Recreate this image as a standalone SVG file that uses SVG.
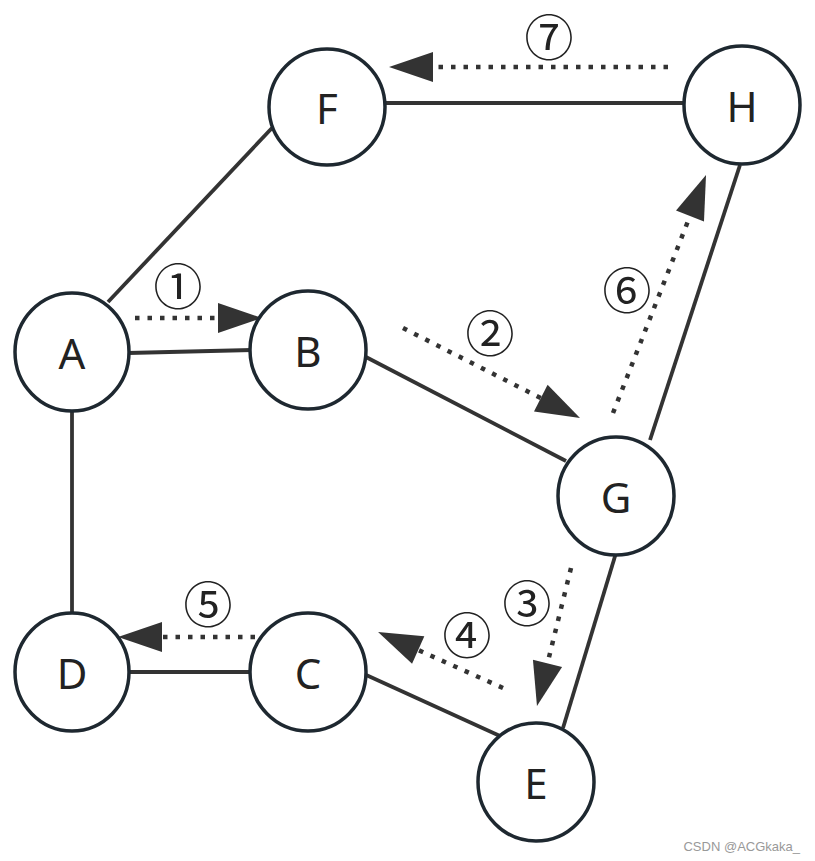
<svg xmlns="http://www.w3.org/2000/svg" width="815" height="861" viewBox="0 0 815 861">
<defs>
<style>
.node ellipse{fill:#fff;stroke:#1e2830;stroke-width:3.5}
.node text{font-family:"Noto Sans","Open Sans",sans-serif;font-size:42px;fill:#222;text-anchor:middle;dominant-baseline:central}
.edge{stroke:#333;stroke-width:3.8;fill:none}
.dot{stroke:#333;stroke-width:4.5;fill:none;stroke-dasharray:4.5 8}
.num{font-family:"Noto Sans CJK SC","DejaVu Sans",sans-serif;font-size:49px;fill:#222;text-anchor:middle;dominant-baseline:central}
</style>
<marker id="ah" markerUnits="userSpaceOnUse" markerWidth="46" markerHeight="32" refX="0" refY="15" orient="auto" overflow="visible">
<path d="M0,0 L44,15 L0,30 z" fill="#333"/>
</marker>
</defs>
<rect width="815" height="861" fill="#fff"/>
<g id="connectors">
<line class="edge" x1="108" y1="302" x2="272" y2="128"/>
<line class="edge" x1="128" y1="353" x2="252" y2="350"/>
<line class="edge" x1="72" y1="410" x2="72" y2="614"/>
<line class="edge" x1="128" y1="672" x2="252" y2="672"/>
<line class="edge" x1="364" y1="674" x2="500" y2="736"/>
<line class="edge" x1="364" y1="356" x2="566" y2="461"/>
<line class="edge" x1="616" y1="553" x2="563" y2="728"/>
<line class="edge" x1="650" y1="440" x2="740" y2="165"/>
<line class="edge" x1="383" y1="103" x2="687" y2="103"/>
<line class="dot" x1="135" y1="318" x2="218" y2="318" marker-end="url(#ah)"/>
<line class="dot" x1="403" y1="328" x2="540.8" y2="398.1" marker-end="url(#ah)"/>
<line class="dot" x1="571" y1="568" x2="547.5" y2="663.3" marker-end="url(#ah)"/>
<line class="dot" x1="503" y1="688" x2="418.2" y2="650" marker-end="url(#ah)"/>
<line class="dot" x1="255" y1="637" x2="162" y2="637" marker-end="url(#ah)"/>
<line class="dot" x1="613" y1="413" x2="690" y2="216" marker-end="url(#ah)"/>
<line class="dot" x1="668" y1="67" x2="433" y2="67" marker-end="url(#ah)"/>
</g>
<g id="labels">
<text class="num" x="178" y="283">①</text>
<text class="num" x="490" y="330">②</text>
<text class="num" x="527" y="600">③</text>
<text class="num" x="467" y="632">④</text>
<text class="num" x="208" y="601">⑤</text>
<text class="num" x="627" y="287">⑥</text>
<text class="num" x="549" y="34">⑦</text>
</g>
<g id="F" class="node"><ellipse cx="327" cy="107" rx="58" ry="58"/><text x="327" y="107">F</text></g>
<g id="H" class="node"><ellipse cx="742" cy="105" rx="58" ry="59"/><text x="742" y="105">H</text></g>
<g id="A" class="node"><ellipse cx="72" cy="352" rx="57" ry="59"/><text x="72" y="352">A</text></g>
<g id="B" class="node"><ellipse cx="308" cy="350" rx="58" ry="59"/><text x="308" y="350">B</text></g>
<g id="G" class="node"><ellipse cx="616" cy="496" rx="58" ry="59"/><text x="616" y="496">G</text></g>
<g id="D" class="node"><ellipse cx="72" cy="672" rx="57" ry="59"/><text x="72" y="672">D</text></g>
<g id="C" class="node"><ellipse cx="308" cy="672" rx="58" ry="59"/><text x="308" y="672">C</text></g>
<g id="E" class="node"><ellipse cx="536" cy="782" rx="58" ry="59"/><text x="536" y="782">E</text></g>
<text x="800" y="851" font-family="Liberation Sans,Arial,sans-serif" font-size="13" fill="#999" text-anchor="end">CSDN @ACGkaka_</text>
</svg>
